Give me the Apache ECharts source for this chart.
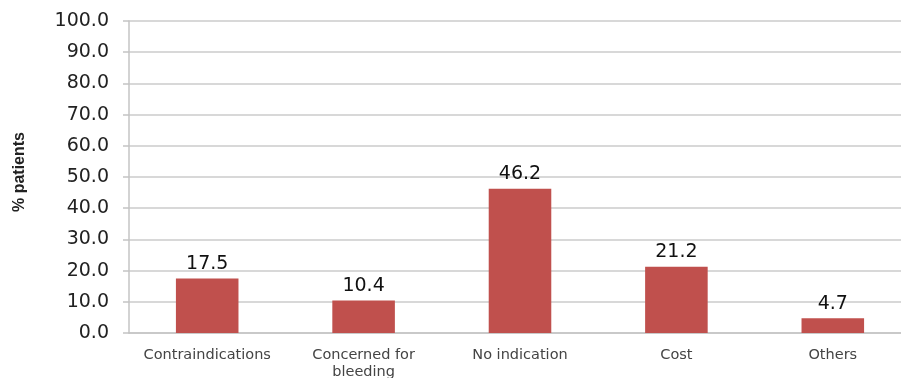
<!DOCTYPE html>
<html>
<head>
<meta charset="utf-8">
<script src="https://cdn.jsdelivr.net/npm/echarts@6/dist/echarts.min.js"></script>
<style>
  html, body { margin: 0; padding: 0; background: #fff; }
  #chart { width: 901px; height: 378px; }
</style>
</head>
<body>
<div id="chart"></div>
<script>
// reasons (categories) and % of patients
const categories = ['Contraindications', 'Concerned for\nbleeding', 'No indication', 'Cost', 'Others'];
const percentValues = [17.5, 10.4, 46.2, 21.2, 4.7];
const yTicks = { min: 0, max: 100, interval: 10 };

let chart = echarts.init(document.getElementById('chart'));
let option = {
  animation: false,
  grid: {
    left: 129,
    width: 782,
    top: 21,
    bottom: 45,
    outerBoundsMode: 'none'
  },
  xAxis: {
    type: 'category',
    data: categories,
    axisLine: { lineStyle: { color: '#c4c4c4', width: 1.5 } },
    axisTick: { show: false },
    axisLabel: {
      color: '#444',
      fontFamily: 'DejaVu Sans, sans-serif',
      fontSize: 14.5,
      lineHeight: 17,
      margin: 14,
      interval: 0
    }
  },
  yAxis: {
    type: 'value',
    min: yTicks.min,
    max: yTicks.max,
    interval: yTicks.interval,
    name: '% patients',
    nameLocation: 'middle',
    nameGap: 101,
    nameTextStyle: {
      color: '#222',
      fontWeight: 'bold',
      fontSize: 16,
      fontFamily: 'Liberation Sans, Arial, sans-serif',
      padding: [0, 0, 0, 10]
    },
    axisLine: { show: true, lineStyle: { color: '#c4c4c4', width: 1.5 } },
    axisTick: { show: true, length: 6, lineStyle: { color: '#c4c4c4', width: 1.5 } },
    axisLabel: {
      color: '#222',
      fontSize: 19,
      fontFamily: 'DejaVu Sans, sans-serif',
      margin: 20,
      formatter: v => v.toFixed(1)
    },
    splitLine: { lineStyle: { color: '#cbcbcb', width: 1.5 } }
  },
  series: [
    {
      type: 'bar',
      data: percentValues,
      barWidth: '40%',
      itemStyle: { color: '#c0504d' },
      label: {
        show: true,
        position: 'top',
        distance: 5,
        color: '#111',
        fontSize: 19,
        fontFamily: 'DejaVu Sans, sans-serif',
        formatter: p => p.value.toFixed(1)
      }
    }
  ]
};
chart.setOption(option);
</script>
</body>
</html>
